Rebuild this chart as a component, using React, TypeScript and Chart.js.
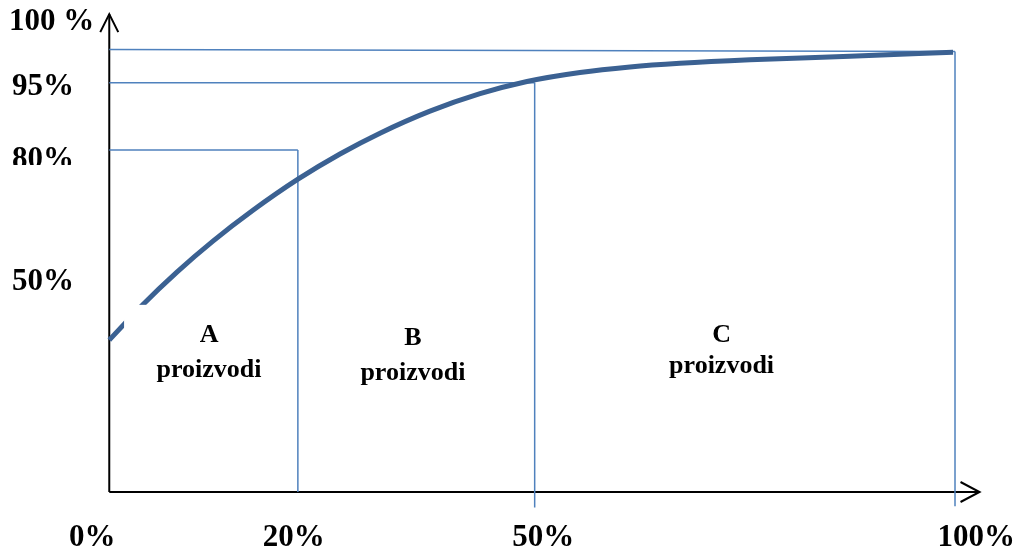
import { useEffect, useRef } from "react";
import { Chart, registerables } from "chart.js";

Chart.register(...registerables);

// ---- Data (in the diagram's own axis units: 0..100 along each axis) ----
const curveX = [0, 3.87, 8.0, 12.26, 16.99, 22.31, 27.28, 32.01, 37.92, 43.84, 49.39, 55.66, 61.57, 67.48, 75.76, 87.59, 99.77];
const curveY = [34.35, 42.17, 49.7, 56.7, 63.66, 70.69, 76.38, 81.08, 86.06, 90.01, 92.77, 94.8, 96.05, 96.88, 97.67, 98.46, 99.39];

// guide levels as drawn in the picture
const topLevelY = [100, 99.55]; // 100 % line (left end, right end)
const levelY95 = 92.5; // "95%" guide
const levelY80 = 77.3; // "80%" guide
const splitX20 = 22.3; // "20%" split
const splitX50 = 50.3; // "50%" split
const splitX100 = 100; // "100%" split
const axisEndX = 102.9;
const axisEndY = 108;

// tick labels and their anchors
const xTickLabels = ["0%", "20%", "50%", "100%"];
const xTickAnchors = [-2.0, 21.8, 51.3, 102.5];
const yTickLabels = ["100 %", "95%", "80%", "50%"];
const yTickAnchors = [104.4, 89.7, 73.2, 45.65];

// class labels
const classNames = ["A", "B", "C"];
const classWord = "proizvodi";
const classAnchorsX = [11.8, 35.9, 72.4];

export default function App() {
  const ref = useRef<HTMLCanvasElement | null>(null);

  useEffect(() => {
    if (!ref.current) return;
    document.body.style.margin = "0";

    const blue = "#4f81bd";
    const curveColor = "#3b6192";

    const seg = (pts: { x: number; y: number }[], color: string, width: number) => ({
      data: pts,
      borderColor: color,
      borderWidth: width,
      pointRadius: 0,
      fill: false,
      tension: 0,
    });

    const overlay = {
      id: "overlay",
      afterDatasetsDraw(chart: any) {
        const { ctx } = chart;
        const xs = chart.scales.x;
        const ys = chart.scales.y;
        const px = (v: number) => xs.getPixelForValue(v);
        const py = (v: number) => ys.getPixelForValue(v);

        ctx.save();
        // white label box (masks the curve in its corner)
        ctx.fillStyle = "#ffffff";
        const bx0 = px(1.75), by0 = py(42.3), bx1 = px(21.4), by1 = py(20.8);
        ctx.fillRect(bx0, by0, bx1 - bx0, by1 - by0);

        // arrowheads
        ctx.strokeStyle = "#000";
        ctx.lineWidth = 2;
        const ytx = px(0), yty = py(axisEndY);
        ctx.beginPath();
        ctx.moveTo(ytx - 9, yty + 18);
        ctx.lineTo(ytx, yty);
        ctx.lineTo(ytx + 9, yty + 18);
        ctx.stroke();
        const xtx = px(axisEndX), xty = py(0);
        ctx.beginPath();
        ctx.moveTo(xtx - 19, xty - 10);
        ctx.lineTo(xtx, xty);
        ctx.lineTo(xtx - 19, xty + 10);
        ctx.stroke();

        // tick labels
        ctx.fillStyle = "#000";
        ctx.font = "bold 31px 'Liberation Serif'";
        ctx.textBaseline = "alphabetic";
        ctx.textAlign = "center";
        xTickLabels.forEach((t, i) => {
          ctx.fillText(t, px(xTickAnchors[i]), py(-12.2));
        });
        ctx.textAlign = "left";
        yTickLabels.forEach((t, i) => {
          const x = i === 0 ? px(-11.85) : px(-11.5);
          if (t === "80%") {
            ctx.save();
            ctx.beginPath();
            ctx.rect(0, 0, px(0) - 2, py(73.9));
            ctx.clip();
            ctx.fillText(t, x, py(yTickAnchors[i]));
            ctx.restore();
          } else {
            ctx.fillText(t, x, py(yTickAnchors[i]));
          }
        });

        // class labels
        ctx.font = "bold 26px 'Liberation Serif'";
        ctx.textAlign = "center";
        const letterY = [33.9, 33.2, 33.9];
        const wordY = [26.1, 25.3, 27.0];
        classNames.forEach((c, i) => {
          ctx.fillText(c, px(classAnchorsX[i]), py(letterY[i]));
          ctx.fillText(classWord, px(classAnchorsX[i]), py(wordY[i]));
        });
        ctx.restore();
      },
    };

    const chart = new Chart(ref.current, {
      type: "line",
      data: {
        datasets: [
          {
            data: curveX.map((x, i) => ({ x, y: curveY[i] })),
            borderColor: curveColor,
            borderWidth: 5,
            pointRadius: 0,
            fill: false,
            cubicInterpolationMode: "monotone",
            borderCapStyle: "butt",
          } as any,
          seg([{ x: 0, y: topLevelY[0] }, { x: splitX100, y: topLevelY[1] }], blue, 1.5),
          seg([{ x: 0, y: levelY95 }, { x: splitX50, y: levelY95 }], blue, 1.5),
          seg([{ x: 0, y: levelY80 }, { x: splitX20, y: levelY80 }], blue, 1.5),
          seg([{ x: splitX20, y: 0 }, { x: splitX20, y: levelY80 }], blue, 1.5),
          seg([{ x: splitX50, y: -3.5 }, { x: splitX50, y: levelY95 }], blue, 1.5),
          seg([{ x: splitX100, y: -3.2 }, { x: splitX100, y: topLevelY[1] }], blue, 1.5),
          seg([{ x: 0, y: 0 }, { x: axisEndX, y: 0 }], "#000", 2),
          seg([{ x: 0, y: 0 }, { x: 0, y: axisEndY }], "#000", 2),
        ],
      },
      options: {
        animation: false,
        responsive: false,
        events: [],
        layout: { padding: 0 },
        plugins: { legend: { display: false }, tooltip: { enabled: false } },
        scales: {
          x: { type: "linear", min: -12.92, max: 107.33, display: false },
          y: { type: "linear", min: -14.01, max: 111.19, display: false },
        },
      },
      plugins: [overlay],
    });
    return () => chart.destroy();
  }, []);

  return (
    <div style={{ position: "absolute", left: 0, top: 0, width: 1017, height: 554, background: "#fff" }}>
      <canvas ref={ref} width={1017} height={554} />
    </div>
  );
}
